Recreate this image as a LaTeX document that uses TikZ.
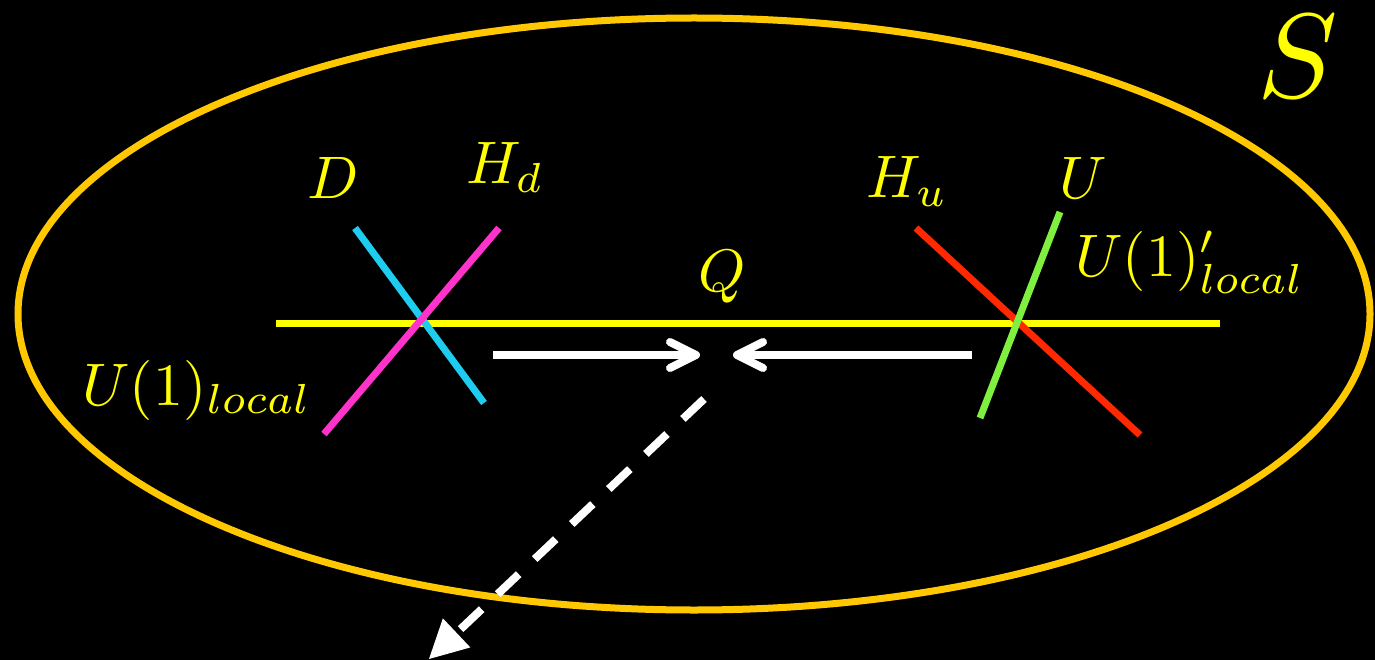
\documentclass[tikz,border=0pt]{standalone}
\usetikzlibrary{arrows.meta}
\definecolor{ellcol}{RGB}{255,200,0}
\definecolor{ylw}{RGB}{255,255,0}
\definecolor{cyanl}{RGB}{30,204,240}
\definecolor{magl}{RGB}{255,51,204}
\definecolor{redl}{RGB}{255,40,0}
\definecolor{grnl}{RGB}{128,240,64}
\tikzset{
  lbl/.style={text=ylw, inner sep=0pt, scale=6},
  brane/.style={line width=7pt},
  flow/.style={white, line width=8pt, -{Straight Barb[round, length=26pt, width=26pt, line width=8pt]}},
}
\begin{document}
\begin{tikzpicture}[x=1pt,y=-1pt]
\fill[black] (0,0) rectangle (1375,660);
\useasboundingbox (0,0) rectangle (1375,660);
% ellipse
\draw[ellcol, line width=7pt] (694,314) ellipse [x radius=676pt, y radius=296pt];
% horizontal line
\coordinate (hl) at (276,323);
\coordinate (hr) at (1220,323);
\draw[ylw, brane] (hl) -- (hr);
% left cross
\coordinate (c1a) at (355,228);
\coordinate (c1b) at (484,403);
\coordinate (m1a) at (499,228);
\coordinate (m1b) at (324,434);
\draw[cyanl, brane] (c1a) -- (c1b);
\draw[magl, brane] (m1a) -- (m1b);
% right cross
\coordinate (r1a) at (916,228);
\coordinate (r1b) at (1140,435);
\coordinate (g1a) at (1060,212);
\coordinate (g1b) at (980,418);
\draw[redl, brane] (r1a) -- (r1b);
\draw[grnl, brane] (g1a) -- (g1b);
% arrows
\coordinate (la) at (493,355);
\coordinate (lb) at (700,355);
\coordinate (ra) at (972,355);
\coordinate (rb) at (733,355);
\draw[flow] (la) -- (lb);
\draw[flow] (ra) -- (rb);
% dashed arrow
\coordinate (da) at (704,399);
\coordinate (db) at (429,659);
\draw[white, line width=8pt, dash pattern=on 29pt off 22pt, -{Triangle[length=38pt, width=40pt, line width=0pt]}] (da) -- (db);
% labels
\node[lbl] (D) at (333,178) {$D$};
\node[lbl] (Hd) at (505,168) {$H_d$};
\node[lbl] (Hu) at (907,182) {$H_u$};
\node[lbl] (U) at (1083,178) {$U$};
\node[lbl] (Q) at (722,277) {$Q$};
\node[lbl] (U1p) at (1190,262) {$U(1)'_{local}$};
\node[lbl] (U1) at (197,390) {$U(1)_{local}$};
\node[text=ylw, inner sep=0pt, scale=12] (S) at (1298,57) {$S$};
\end{tikzpicture}
\end{document}
